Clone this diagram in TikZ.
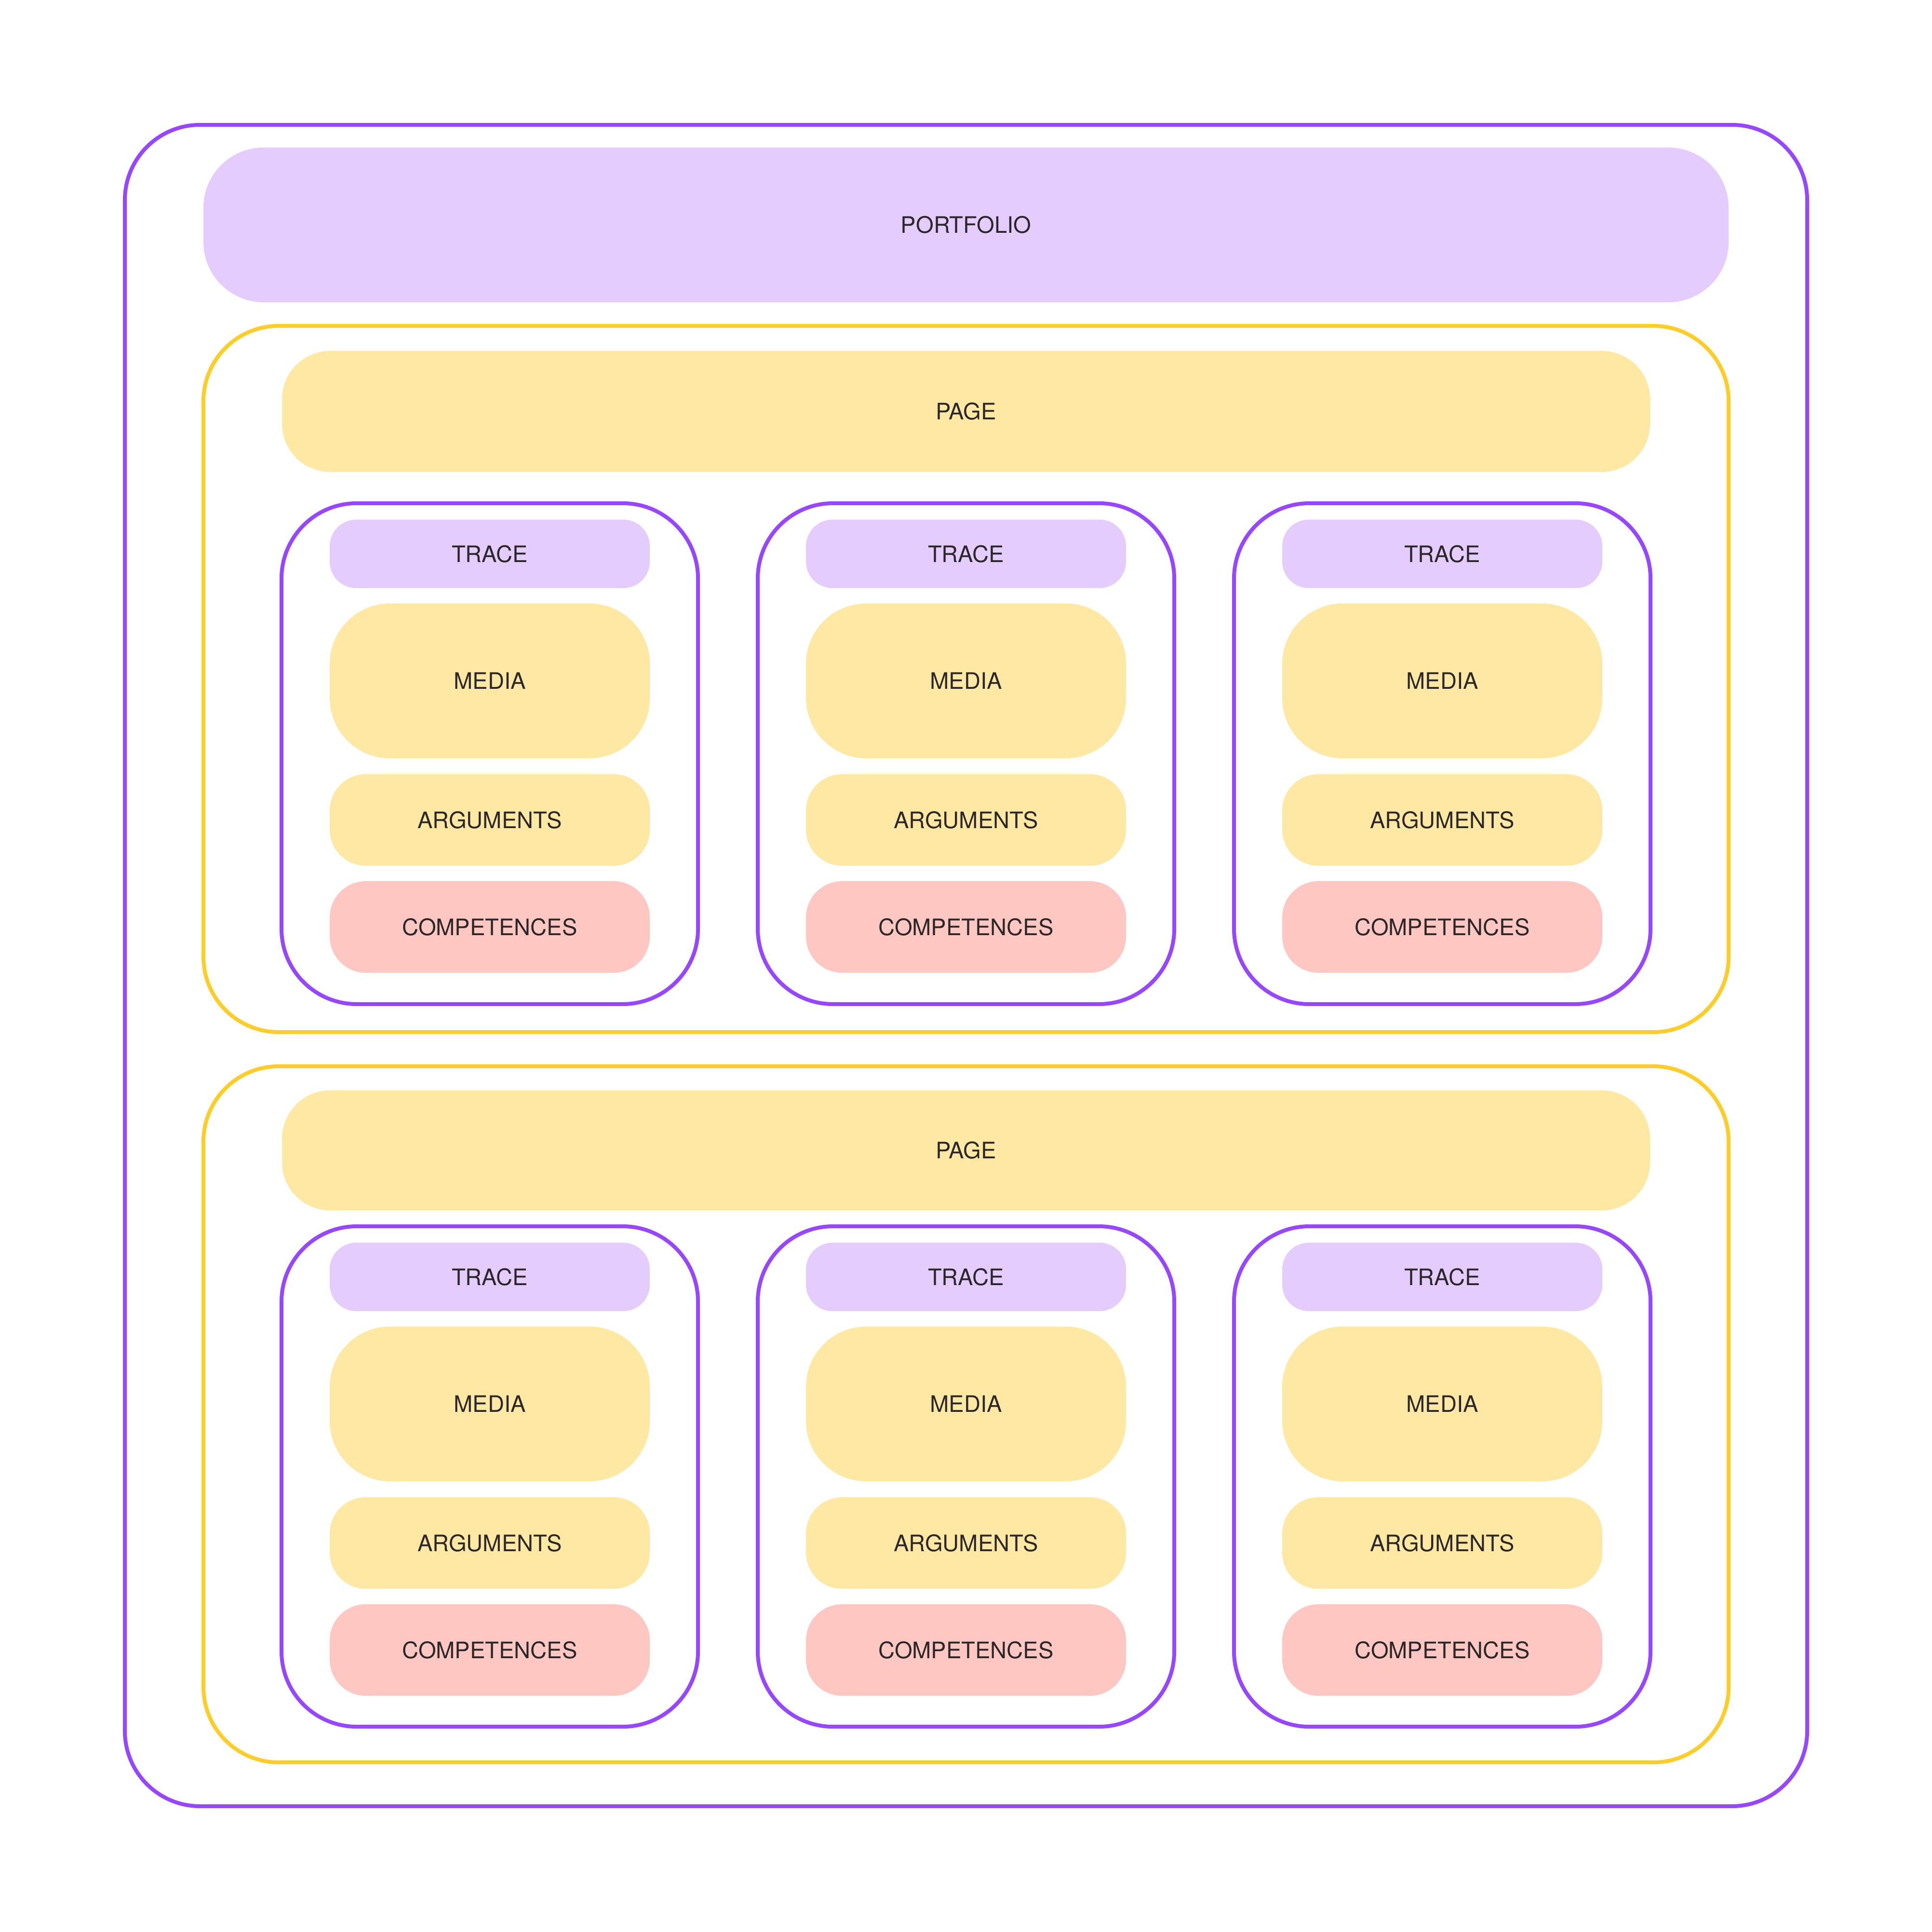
\documentclass[tikz,border=0pt]{standalone}
\usepackage{fontspec}
\setmainfont{TeX Gyre Heros}
\usetikzlibrary{positioning}
\definecolor{framepurple}{HTML}{9747FF}
\definecolor{frameyellow}{HTML}{FFCD29}
\definecolor{fillpurple}{HTML}{E4CCFF}
\definecolor{fillyellow}{HTML}{FFE8A3}
\definecolor{fillpink}{HTML}{FFC7C2}
\definecolor{ink}{HTML}{2B2628}
\tikzset{auto, node distance=0.32cm, text=ink, font=\fontsize{13.4}{13.4}\selectfont}
\tikzstyle{frame} = [draw=framepurple, line width=2.28pt, rectangle, rounded corners=1.56cm, outer sep=0pt]
\tikzstyle{pageframe} = [frame, draw=frameyellow, minimum width=31.64cm]
\tikzstyle{col} = [frame, minimum width=8.64cm, minimum height=10.39cm]
\tikzstyle{block} = [rectangle, outer sep=0pt, inner sep=0pt, text centered, minimum width=6.64cm]
\tikzstyle{trace} = [block, fill=fillpurple, minimum height=1.42cm, rounded corners=0.55cm]
\tikzstyle{media} = [block, fill=fillyellow, minimum height=3.21cm, rounded corners=1.25cm]
\tikzstyle{args} = [block, fill=fillyellow, minimum height=1.90cm, rounded corners=0.75cm]
\tikzstyle{comp} = [block, fill=fillpink, minimum height=1.90cm, rounded corners=0.75cm]
\tikzstyle{banner} = [block, fill=fillyellow, minimum width=28.38cm, rounded corners=1cm]

\begin{document}
\begin{tikzpicture}[y=-1cm]
		\useasboundingbox (0,0) rectangle (40.08,40.08);

		\node [frame, minimum width=34.90cm, minimum height=34.88cm] (outer) at (20.04,20.03) {};
		\node [block, fill=fillpurple, minimum width=31.64cm, minimum height=3.21cm, rounded corners=1.25cm] (portfolio) at (20.04,4.665) {PORTFOLIO};

		% first page
		\node [pageframe, minimum height=14.65cm, below=0.49cm of portfolio] (page_a) {};
		\node [banner, minimum height=2.51cm, below=0.52cm of page_a.north] (banner_a) {PAGE};

		\node [col, below=0.65cm of banner_a] (col_a2) {};
		\node [col, left=1.24cm of col_a2] (col_a1) {};
		\node [col, right=1.24cm of col_a2] (col_a3) {};

		\node [trace, below=0.34cm of col_a1.north] (trace_a1) {TRACE};
		\node [media, below=0.32cm of trace_a1] (media_a1) {MEDIA};
		\node [args, below=0.33cm of media_a1] (args_a1) {ARGUMENTS};
		\node [comp, below=of args_a1] (comp_a1) {COMPETENCES};

		\node [trace, below=0.34cm of col_a2.north] (trace_a2) {TRACE};
		\node [media, below=0.32cm of trace_a2] (media_a2) {MEDIA};
		\node [args, below=0.33cm of media_a2] (args_a2) {ARGUMENTS};
		\node [comp, below=of args_a2] (comp_a2) {COMPETENCES};

		\node [trace, below=0.34cm of col_a3.north] (trace_a3) {TRACE};
		\node [media, below=0.32cm of trace_a3] (media_a3) {MEDIA};
		\node [args, below=0.33cm of media_a3] (args_a3) {ARGUMENTS};
		\node [comp, below=of args_a3] (comp_a3) {COMPETENCES};

		% second page
		\node [pageframe, minimum height=14.44cm, below=0.71cm of page_a] (page_b) {};
		\node [banner, minimum height=2.49cm, below=0.50cm of page_b.north] (banner_b) {PAGE};

		\node [col, minimum height=10.38cm, below=0.33cm of banner_b] (col_b2) {};
		\node [col, minimum height=10.38cm, left=1.24cm of col_b2] (col_b1) {};
		\node [col, minimum height=10.38cm, right=1.24cm of col_b2] (col_b3) {};

		\node [trace, below=0.34cm of col_b1.north] (trace_b1) {TRACE};
		\node [media, below=0.32cm of trace_b1] (media_b1) {MEDIA};
		\node [args, below=0.33cm of media_b1] (args_b1) {ARGUMENTS};
		\node [comp, below=of args_b1] (comp_b1) {COMPETENCES};

		\node [trace, below=0.34cm of col_b2.north] (trace_b2) {TRACE};
		\node [media, below=0.32cm of trace_b2] (media_b2) {MEDIA};
		\node [args, below=0.33cm of media_b2] (args_b2) {ARGUMENTS};
		\node [comp, below=of args_b2] (comp_b2) {COMPETENCES};

		\node [trace, below=0.34cm of col_b3.north] (trace_b3) {TRACE};
		\node [media, below=0.32cm of trace_b3] (media_b3) {MEDIA};
		\node [args, below=0.33cm of media_b3] (args_b3) {ARGUMENTS};
		\node [comp, below=of args_b3] (comp_b3) {COMPETENCES};
	\end{tikzpicture}
\end{document}
